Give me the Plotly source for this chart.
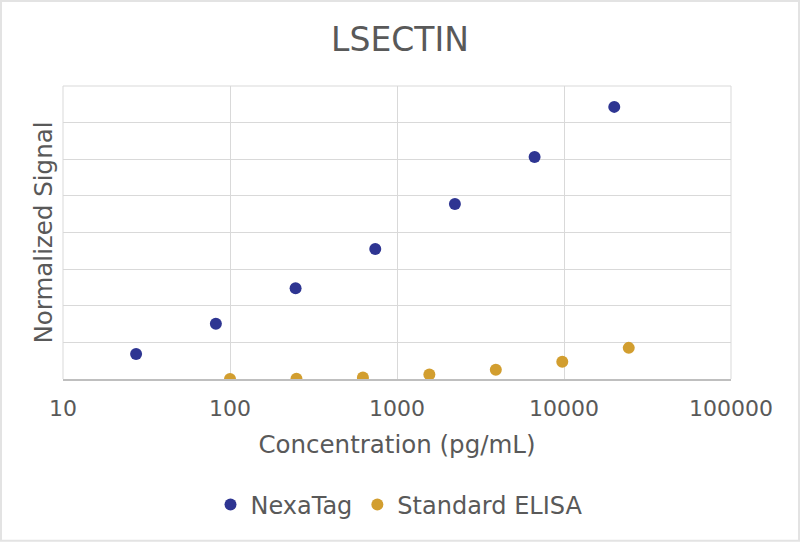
import plotly.graph_objects as go

# NexaTag (3-fold dilutions) and standard ELISA (2.5-fold dilutions)
nexatag_conc = [27.4, 82.3, 247, 741, 2222, 6667, 20000]
nexatag_signal = [0.68, 1.51, 2.48, 3.55, 4.78, 6.06, 7.43]

elisa_conc = [100, 250, 625, 1562.5, 3906, 9766, 24414]
elisa_signal = [0.0, 0.01, 0.04, 0.12, 0.25, 0.47, 0.85]

tick_vals = [10, 100, 1000, 10000, 100000]
tick_text = ['10', '100', '1000', '10000', '100000']

font_name = 'DejaVu Sans, sans-serif'
text_grey = '#595959'
grid_grey = '#d9d9d9'

fig = go.Figure()

fig.add_trace(go.Scatter(x=nexatag_conc, y=nexatag_signal, mode='markers', name='NexaTag',
                         marker=dict(color='#2e3592', size=12)))
fig.add_trace(go.Scatter(x=elisa_conc, y=elisa_signal, mode='markers', name='Standard ELISA',
                         marker=dict(color='#d29e2f', size=12)))

fig.update_layout(
    width=800, height=542,
    margin=dict(l=63, r=69, t=86, b=163),
    paper_bgcolor='white', plot_bgcolor='white',
    font=dict(family=font_name, color=text_grey),
    title=dict(text='LSECTIN', x=0.5, xanchor='center', y=0.928, yanchor='middle',
               font=dict(size=33, color=text_grey)),
    showlegend=True,
    legend=dict(orientation='h', x=0.503, xanchor='center', y=-0.43, yanchor='middle',
                font=dict(size=24, color=text_grey), itemwidth=30, tracegroupgap=0),
)

fig.update_xaxes(
    type='log', range=[1, 5],
    tickmode='array', tickvals=tick_vals, ticktext=tick_text,
    tickfont=dict(size=22, color=text_grey),
    ticks='', ticklabelstandoff=9,
    showgrid=True, gridcolor=grid_grey, gridwidth=1,
    showline=True, linecolor='#bfbfbf', linewidth=1.5, mirror=False,
    zeroline=False,
    title=dict(text='Concentration (pg/mL)', font=dict(size=24.5, color=text_grey), standoff=16),
)

fig.update_yaxes(
    range=[0, 8], dtick=1, showticklabels=False,
    showgrid=True, gridcolor=grid_grey, gridwidth=1,
    showline=False, zeroline=False,
    title=dict(text='Normalized Signal', font=dict(size=24.5, color=text_grey), standoff=2),
)

# left, right and top edges of plot frame
fig.add_shape(type='line', xref='paper', yref='paper', x0=1, x1=1, y0=0, y1=1,
              line=dict(color=grid_grey, width=1))
fig.add_shape(type='line', xref='paper', yref='paper', x0=0, x1=1, y0=1, y1=1,
              line=dict(color=grid_grey, width=1))
fig.add_shape(type='line', xref='paper', yref='paper', x0=0, x1=0, y0=0, y1=1,
              line=dict(color=grid_grey, width=1))

# light border around the whole picture
fig.add_shape(type='rect', xref='paper', yref='paper',
              x0=-0.0928, x1=1.1018, y0=-0.5523, y1=1.29,
              line=dict(color='#e3e3e3', width=2))

# page has an 8px body margin by default, drop it so the figure sits at 0,0
fig.write_html('out.html', config={'displayModeBar': False},
               post_script="document.body.style.margin='0';")
